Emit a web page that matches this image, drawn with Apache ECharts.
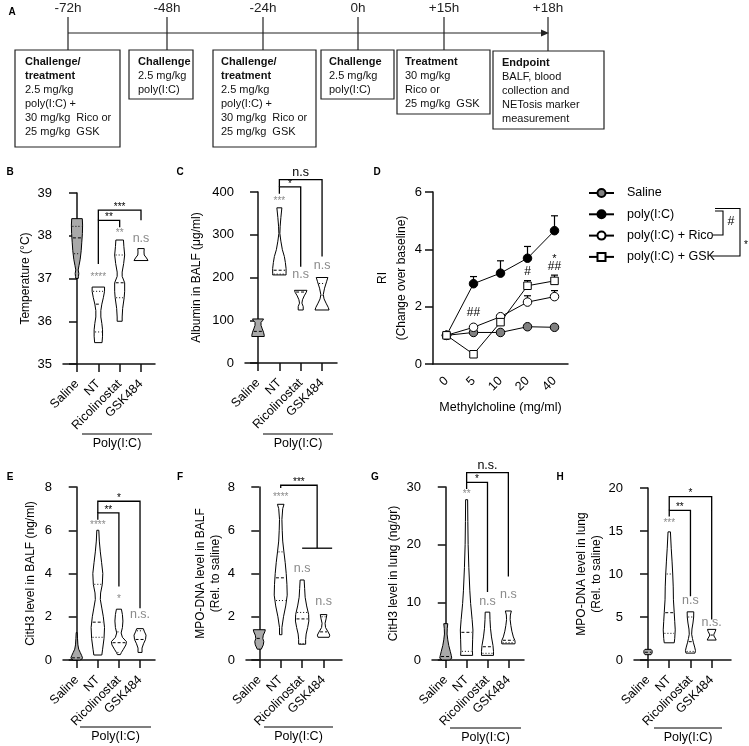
<!DOCTYPE html>
<html><head><meta charset="utf-8">
<script src="https://cdn.jsdelivr.net/npm/echarts@6/dist/echarts.min.js"></script>
<style>html,body{margin:0;padding:0;background:#fff}#c{width:749px;height:746px}</style>
</head><body><div id="c"></div>
<script>
// ---------------- DATA ----------------
const groups = ['Saline', 'NT', 'Ricolinostat', 'GSK484'];

// Panel A timeline
const timeLabels = ['-72h', '-48h', '-24h', '0h', '+15h', '+18h'];
const boxTitles = ['Challenge/\ntreatment', 'Challenge', 'Challenge/\ntreatment', 'Challenge', 'Treatment', 'Endpoint'];
const boxBodies = [
  '2.5 mg/kg\npoly(I:C) +\n30 mg/kg  Rico or\n25 mg/kg  GSK',
  '2.5 mg/kg\npoly(I:C)',
  '2.5 mg/kg\npoly(I:C) +\n30 mg/kg  Rico or\n25 mg/kg  GSK',
  '2.5 mg/kg\npoly(I:C)',
  '30 mg/kg\nRico or\n25 mg/kg  GSK',
  'BALF, blood\ncollection and\nNETosis marker\nmeasurement'
];

// Panel B: temperature (value, relative density) profiles, top to bottom
const tempViolins = [
  [[38.4,0.53],[38.25,0.56],[38.05,0.54],[37.85,0.48],[37.65,0.42],[37.45,0.32],[37.3,0.2],[37.2,0.12],[37.12,0.18],[37.05,0.15],[37.0,0.12]],
  [[36.8,0.62],[36.7,0.62],[36.55,0.5],[36.4,0.35],[36.25,0.25],[36.1,0.25],[35.95,0.35],[35.8,0.42],[35.65,0.42],[35.5,0.37]],
  [[37.9,0.38],[37.75,0.42],[37.55,0.5],[37.35,0.4],[37.15,0.25],[37.05,0.25],[36.9,0.5],[36.7,0.5],[36.55,0.45],[36.3,0.3],[36.1,0.25],[36.0,0.25]],
  [[37.7,0.32],[37.62,0.3],[37.55,0.32],[37.48,0.55],[37.42,0.7]]
];
const tempMedian = [37.95, 36.4, 36.9, null];
const tempQ1 = [37.58, 35.75, 36.55, null];
const tempQ3 = [38.22, 36.7, 37.55, null];
const tempSigText = ['', '****', '**', 'n.s'];
const tempSigY = [null, 37.08, 38.11, 37.94];
const tempBrackets = [[1, 2, 38.36, 37.34, 38.2], [1, 3, 38.6, 38.36, 38.36]];
const tempBracketText = ['**', '***'];

// Panel C: albumin
const albViolins = [
  [[103,0.55],[99,0.45],[95,0.3],[88,0.3],[80,0.42],[72,0.55],[65,0.62],[62,0.62]],
  [[363,0.25],[340,0.15],[320,0.08],[303,0.05],[285,0.15],[265,0.3],[249,0.5],[235,0.6],[221,0.67],[210,0.67],[206,0.67]],
  [[170,0.62],[165,0.55],[157,0.35],[148,0.18],[140,0.12],[132,0.25],[124,0.25]],
  [[200,0.58],[190,0.45],[175,0.25],[160,0.12],[150,0.2],[140,0.4],[130,0.62],[124,0.7]]
];
const albMedian = [74, 217, 166, 158];
const albQ1 = [null, 208, null, null];
const albQ3 = [null, 297, null, 186];
const albSigText = ['', '***', 'n.s', 'n.s'];
const albSigY = [null, 382, 206, 229];
const albBrackets = [[1, 2, 412, 396, 225], [1, 3, 429, 412, 249]];
const albBracketText = ['*', 'n.s'];

// Panel D: respiratory index
const doses = ['0', '5', '10', '20', '40'];
const riSaline = [1.0, 1.1, 1.1, 1.3, 1.28];
const riPoly = [1.0, 2.8, 3.17, 3.69, 4.65];
const riRico = [1.0, 1.28, 1.65, 2.16, 2.35];
const riGsk = [1.0, 0.34, 1.46, 2.73, 2.9];
const riPolyErr = [null, 3.05, 3.6, 4.1, 5.17];
const riRicoErr = [null, null, 1.72, 2.38, 2.56];
const riGskErr = [null, null, null, 2.91, 3.1];
const riMarks = [[1, 1.78, '##'], [3, 3.23, '#'], [4, 3.75, '*'], [4, 3.4, '##']];
const riNames = ['Saline', 'poly(I:C)', 'poly(I:C) + Rico', 'poly(I:C) + GSK'];

// Panel E: CitH3 BALF
const citBalfViolins = [
  [[1.27,0.05],[1.0,0.08],[0.7,0.12],[0.5,0.2],[0.35,0.35],[0.2,0.5],[0.1,0.58],[0.03,0.5],[0.0,0.3]],
  [[6.0,0.1],[5.5,0.15],[5.0,0.25],[4.5,0.38],[4.0,0.5],[3.5,0.45],[3.1,0.28],[2.8,0.25],[2.4,0.4],[2.0,0.55],[1.5,0.67],[1.0,0.62],[0.5,0.48],[0.23,0.4]],
  [[2.35,0.25],[2.1,0.35],[1.8,0.4],[1.5,0.35],[1.25,0.22],[1.05,0.35],[0.85,0.75],[0.7,0.7],[0.5,0.45],[0.35,0.25],[0.25,0.15]],
  [[1.45,0.33],[1.3,0.45],[1.15,0.6],[0.95,0.55],[0.75,0.35],[0.55,0.2],[0.35,0.2]]
];
const citBalfMedian = [0.1, 1.75, 0.8, 0.95];
const citBalfQ1 = [null, 1.05, 0.35, null];
const citBalfQ3 = [null, 3.5, 1.3, 1.35];
const citBalfSigText = ['', '****', '*', 'n.s.'];
const citBalfSigY = [null, 6.33, 2.9, 2.08];
const citBalfBrackets = [[1, 2, 6.8, 6.49, 3.4], [1, 3, 7.34, 6.8, 2.39]];
const citBalfBracketText = ['**', '*'];

// Panel F: MPO-DNA BALF
const mpoBalfViolins = [
  [[1.4,0.6],[1.3,0.55],[1.15,0.4],[1.0,0.35],[0.85,0.45],[0.7,0.4],[0.5,0.2]],
  [[7.2,0.33],[7.0,0.2],[6.5,0.12],[6.0,0.15],[5.5,0.2],[5.0,0.32],[4.5,0.45],[4.0,0.55],[3.5,0.62],[3.0,0.65],[2.5,0.5],[2.0,0.28],[1.5,0.12],[1.17,0.12]],
  [[3.7,0.2],[3.3,0.25],[2.9,0.3],[2.5,0.45],[2.1,0.65],[1.8,0.67],[1.5,0.55],[1.2,0.4],[0.95,0.35],[0.73,0.35]],
  [[2.1,0.33],[1.9,0.25],[1.7,0.15],[1.5,0.2],[1.3,0.45],[1.15,0.62],[1.05,0.55]]
];
const mpoBalfMedian = [1.0, 3.8, 1.9, 1.3];
const mpoBalfQ1 = [null, 2.75, 0.75, null];
const mpoBalfQ3 = [null, 5.0, 2.2, 2.0];
const mpoBalfSigText = ['', '****', 'n.s', 'n.s'];
const mpoBalfSigY = [null, 7.64, 4.25, 2.7];
const mpoBalfBrackets = [[1, 2.7, 8.08, 7.95, 5.17]];
const mpoBalfBracketText = ['***'];
const mpoBalfCombine = [2, 3.4, 5.17];

// Panel G: CitH3 lung
const citLungViolins = [
  [[6.3,0.2],[5.5,0.15],[4.5,0.13],[3.5,0.2],[2.5,0.3],[1.5,0.45],[0.8,0.55],[0.3,0.6],[0,0.35]],
  [[27.8,0.1],[24,0.12],[20,0.15],[16,0.22],[12,0.32],[9.8,0.4],[7,0.55],[5.2,0.63],[3.5,0.6],[1.7,0.57],[0.8,0.6]],
  [[8.3,0.23],[7,0.25],[5.5,0.3],[4,0.4],[2.5,0.55],[1.5,0.6],[0.8,0.6]],
  [[8.5,0.3],[7.8,0.2],[7,0.18],[6,0.25],[5,0.35],[4,0.5],[3.4,0.65],[3.0,0.68],[2.8,0.65]]
];
const citLungMedian = [0.6, 4.8, 2.3, 3.42];
const citLungQ1 = [null, 1.5, 1.16, 3.0];
const citLungQ3 = [null, null, null, null];
const citLungSigText = ['', '**', 'n.s', 'n.s'];
const citLungSigY = [null, 29.07, 10.1, 11.4];
const citLungBrackets = [[1, 2, 30.8, 29.65, 11.8], [1, 3, 32.5, 30.8, 14.5]];
const citLungBracketText = ['*', 'n.s.'];

// Panel H: MPO-DNA lung
const mpoLungViolins = [
  [[1.24,0.3],[1.1,0.4],[0.95,0.42],[0.8,0.4],[0.62,0.3]],
  [[14.9,0.12],[13,0.2],[11.5,0.28],[10,0.35],[8.5,0.4],[7,0.42],[5.5,0.5],[4.5,0.55],[3.5,0.6],[2.5,0.55],[2.0,0.5]],
  [[5.6,0.33],[5.0,0.32],[4.3,0.25],[3.6,0.15],[3.0,0.12],[2.5,0.2],[2.0,0.3],[1.5,0.42],[1.1,0.5],[0.8,0.45]],
  [[3.56,0.42],[3.3,0.35],[3.0,0.22],[2.8,0.22],[2.55,0.35],[2.32,0.45]]
];
const mpoLungMedian = [0.9, 5.5, 2.13, 2.9];
const mpoLungQ1 = [null, 3.1, 1.0, null];
const mpoLungQ3 = [null, 10, 5.0, null];
const mpoLungSigText = ['', '***', 'n.s', 'n.s.'];
const mpoLungSigY = [null, 16.1, 6.96, 4.4];
const mpoLungBrackets = [[1, 2, 17.4, 16.7, 7.4], [1, 3, 19.0, 17.4, 4.7]];
const mpoLungBracketText = ['**', '*'];

// ---------------- STYLE / LAYOUT ----------------
const FONT = '"Liberation Sans", Arial, sans-serif';
const HW = 10;
const FILL = '#a9a9a9';
const GRAY = '#8a8a8a';
const AX = { color: '#111', width: 1.5 };

const violinPanels = [
  { idx: 0, grid: { left: 63, top: 193, width: 92, height: 171 }, x: [-0.656, 3.656], y: [35, 39, 1],
    name: 'Temperature (°C)', gap: 30, lh: 14,
    v: tempViolins, med: tempMedian, q1: tempQ1, q3: tempQ3, sig: tempSigText, sigY: tempSigY, br: tempBrackets, brT: tempBracketText },
  { idx: 1, grid: { left: 245, top: 192, width: 92, height: 171 }, x: [-0.61, 3.7], y: [0, 400, 100],
    name: 'Albumin in BALF (μg/ml)', gap: 41, lh: 14,
    v: albViolins, med: albMedian, q1: albQ1, q3: albQ3, sig: albSigText, sigY: albSigY, br: albBrackets, brT: albBracketText },
  { idx: 3, grid: { left: 63, top: 487, width: 92, height: 173 }, x: [-0.65, 3.71], y: [0, 8, 2],
    name: 'CitH3 level in BALF (ng/ml)', gap: 25, lh: 14,
    v: citBalfViolins, med: citBalfMedian, q1: citBalfQ1, q3: citBalfQ3, sig: citBalfSigText, sigY: citBalfSigY, br: citBalfBrackets, brT: citBalfBracketText },
  { idx: 4, grid: { left: 246, top: 487, width: 96, height: 173 }, x: [-0.62, 3.86], y: [0, 8, 2],
    name: 'MPO-DNA level in BALF\n(Rel. to saline)', gap: 23, lh: 15,
    v: mpoBalfViolins, med: mpoBalfMedian, q1: mpoBalfQ1, q3: mpoBalfQ3, sig: mpoBalfSigText, sigY: mpoBalfSigY, br: mpoBalfBrackets, brT: mpoBalfBracketText, extra: mpoBalfCombine },
  { idx: 5, grid: { left: 432, top: 487, width: 92, height: 173 }, x: [-0.66, 3.75], y: [0, 30, 10],
    name: 'CitH3 level in lung (ng/gr)', gap: 31, lh: 14,
    v: citLungViolins, med: citLungMedian, q1: citLungQ1, q3: citLungQ3, sig: citLungSigText, sigY: citLungSigY, br: citLungBrackets, brT: citLungBracketText },
  { idx: 6, grid: { left: 634, top: 488, width: 97, height: 172 }, x: [-0.66, 3.91], y: [0, 20, 5],
    name: 'MPO-DNA level in lung\n(Rel. to saline)', gap: 29, lh: 15,
    v: mpoLungViolins, med: mpoLungMedian, q1: mpoLungQ1, q3: mpoLungQ3, sig: mpoLungSigText, sigY: mpoLungSigY, br: mpoLungBrackets, brT: mpoLungBracketText }
];
const dGrid = { left: 433, top: 192, width: 135, height: 172 };

function interpDensity(prof, v) {
  for (let k = 0; k < prof.length - 1; k++) {
    const a = prof[k], b = prof[k + 1];
    if (v <= a[0] && v >= b[0]) {
      const t = (a[0] - v) / (a[0] - b[0]);
      return a[1] + t * (b[1] - a[1]);
    }
  }
  return prof[prof.length - 1][1];
}

function txt(x, y, text, size, color, extra) {
  return Object.assign({ type: 'text', x: x, y: y, style: { text: text, fill: color, fontSize: size, fontFamily: FONT, align: 'center', verticalAlign: 'middle' } }, extra || {});
}

const grids = [], xAxes = [], yAxes = [], series = [];
const order = [0, 1, null, 2, 3, 4, 5];
for (let i = 0; i < 7; i++) {
  if (i === 2) {
    grids.push(dGrid);
    xAxes.push({ gridIndex: 2, type: 'category', data: doses, boundaryGap: true,
      axisLine: { lineStyle: AX }, axisTick: { alignWithLabel: true, length: 8, lineStyle: AX },
      axisLabel: { rotate: 45, fontSize: 12.5, color: '#000', fontFamily: FONT, margin: 15 },
      name: 'Methylcholine (mg/ml)', nameLocation: 'middle', nameGap: 37,
      nameTextStyle: { fontSize: 12.5, fontFamily: FONT, color: '#000' } });
    yAxes.push({ gridIndex: 2, type: 'value', min: 0, max: 6, interval: 2,
      axisLine: { show: true, lineStyle: AX }, axisTick: { show: true, length: 8, lineStyle: AX },
      axisLabel: { fontSize: 13, color: '#000', fontFamily: FONT, margin: 11 }, splitLine: { show: false },
      name: 'RI\n(Change over baseline)', nameLocation: 'middle', nameGap: 21,
      nameTextStyle: { fontSize: 12, fontFamily: FONT, color: '#000', lineHeight: 19 } });
    continue;
  }
  const P = violinPanels[order[i]];
  grids.push(P.grid);
  xAxes.push({ gridIndex: i, type: 'value', min: P.x[0], max: P.x[1],
    axisLine: { show: true, onZero: false, lineStyle: AX },
    axisTick: { show: true, customValues: [0, 1, 2, 3], length: 8, lineStyle: AX },
    axisLabel: { customValues: [0, 1, 2, 3], rotate: 45, formatter: v => groups[Math.round(v)], fontSize: 12.5, color: '#000', fontFamily: FONT, margin: 18 },
    splitLine: { show: false } });
  yAxes.push({ gridIndex: i, type: 'value', min: P.y[0], max: P.y[1], interval: P.y[2],
    axisLine: { show: true, lineStyle: AX }, axisTick: { show: true, length: 8, lineStyle: AX },
    axisLabel: { fontSize: 13, color: '#000', fontFamily: FONT, margin: 11 }, splitLine: { show: false },
    name: P.name, nameLocation: 'middle', nameGap: P.gap,
    nameTextStyle: { fontSize: 12, fontFamily: FONT, color: '#000', lineHeight: P.lh } });

  // violins
  series.push({ type: 'custom', xAxisIndex: i, yAxisIndex: i, silent: true, z: 3,
    data: P.v.map((_, g) => [g, P.v[g][0][0]]),
    renderItem: (params, api) => {
      const g = params.dataIndex;
      const prof = P.v[g];
      const cx = api.coord([g, prof[0][0]])[0];
      const R = [], L = [];
      prof.forEach(([v, d]) => { const y = api.coord([g, v])[1]; R.push([cx + d * HW, y]); L.unshift([cx - d * HW, y]); });
      const ch = [{ type: 'polygon', shape: { points: R.concat(L) }, style: { fill: g === 0 ? FILL : '#fff', stroke: '#000', lineWidth: 1 } }];
      [[P.q1[g], [1, 2]], [P.q3[g], [1, 2]], [P.med[g], [3, 2]]].forEach(([v, dash]) => {
        if (v == null) return;
        const d = interpDensity(prof, v), y = api.coord([g, v])[1];
        ch.push({ type: 'line', shape: { x1: cx - d * HW + 1, y1: y, x2: cx + d * HW - 1, y2: y }, style: { stroke: '#000', lineWidth: 1, lineDash: dash } });
      });
      return { type: 'group', children: ch };
    } });

  // significance marks and brackets
  series.push({ type: 'custom', xAxisIndex: i, yAxisIndex: i, silent: true, z: 4, clip: false,
    data: [[0, P.y[0]]],
    renderItem: (params, api) => {
      const ch = [];
      P.sig.forEach((s, g) => {
        if (!s) return;
        const p = api.coord([g, P.sigY[g]]);
        const star = s.indexOf('*') >= 0;
        ch.push(txt(p[0], p[1] + (star ? 2 : 0), s, star ? 10 : 12.5, GRAY));
      });
      P.br.forEach((b, k) => {
        const a1 = api.coord([b[0], b[3]]), t1 = api.coord([b[0], b[2]]), t2 = api.coord([b[1], b[2]]), a2 = api.coord([b[1], b[4]]);
        ch.push({ type: 'polyline', shape: { points: [a1, t1, t2, a2] }, style: { stroke: '#000', lineWidth: 1.3, fill: null } });
        const s = P.brT[k], star = s.indexOf('*') >= 0;
        ch.push(txt((t1[0] + t2[0]) / 2, t1[1] - (star ? 3 : 7.5), s, star ? 10 : 12.5, '#000'));
      });
      if (P.extra) {
        const e1 = api.coord([P.extra[0], P.extra[2]]), e2 = api.coord([P.extra[1], P.extra[2]]);
        ch.push({ type: 'line', shape: { x1: e1[0], y1: e1[1], x2: e2[0], y2: e2[1] }, style: { stroke: '#000', lineWidth: 1.3 } });
      }
      return { type: 'group', children: ch };
    } });
}

// Panel D series
const riSeries = [riSaline, riPoly, riRico, riGsk];
const riFill = ['#808080', '#000', '#fff', '#fff'];
const riSym = ['circle', 'circle', 'circle', 'rect'];
const riErr = [null, riPolyErr, riRicoErr, riGskErr];
riErr.forEach((err, s) => {
  if (!err) return;
  series.push({ type: 'custom', xAxisIndex: 2, yAxisIndex: 2, silent: true, z: 2,
    data: err.map((e, k) => [k, riSeries[s][k], e]).filter(d => d[2] != null),
    renderItem: (params, api) => {
      const p0 = api.coord([api.value(0), api.value(1)]), p1 = api.coord([api.value(0), api.value(2)]);
      return { type: 'group', children: [
        { type: 'line', shape: { x1: p0[0], y1: p0[1], x2: p1[0], y2: p1[1] }, style: { stroke: '#000', lineWidth: 1.2 } },
        { type: 'line', shape: { x1: p1[0] - 3.5, y1: p1[1], x2: p1[0] + 3.5, y2: p1[1] }, style: { stroke: '#000', lineWidth: 1.2 } }
      ] };
    } });
});
riSeries.forEach((d, s) => {
  series.push({ type: 'line', name: riNames[s], xAxisIndex: 2, yAxisIndex: 2, data: d, z: 5,
    symbol: riSym[s], symbolSize: s === 3 ? 7.5 : 8.5, showAllSymbol: true,
    lineStyle: { color: '#000', width: 1 }, itemStyle: { color: riFill[s], borderColor: '#000', borderWidth: 1 } });
});
series.push({ type: 'custom', xAxisIndex: 2, yAxisIndex: 2, silent: true, z: 6,
  data: riMarks.map(m => [m[0], m[1]]),
  renderItem: (params, api) => {
    const m = riMarks[params.dataIndex];
    const p = api.coord([api.value(0), api.value(1)]);
    const star = m[2].indexOf('*') >= 0;
    return txt(p[0], p[1] + (star ? 2 : 0), m[2], star ? 11 : 12, '#000');
  } });

// ---------------- GRAPHIC (panel A, letters, group lines, legend brackets) ----------------
const graphic = [];
const tickX = [68, 167, 263, 358, 444, 548];
const boxes = [[15, 50, 105, 97], [129, 50, 64, 49], [213, 50, 103, 97], [321, 50, 73, 49], [397, 50, 93, 64], [493, 51, 111, 78]];
const boxPad = [10, 9, 8, 8, 8, 9];
graphic.push({ type: 'line', shape: { x1: 68, y1: 33, x2: 543, y2: 33 }, style: { stroke: '#222', lineWidth: 1.2 } });
graphic.push({ type: 'polygon', shape: { points: [[541, 29.5], [549, 33], [541, 36.5]] }, style: { fill: '#222' } });
timeLabels.forEach((t, k) => {
  graphic.push(txt(tickX[k], 8, t, 13.5, '#222'));
  graphic.push({ type: 'line', shape: { x1: tickX[k], y1: 17, x2: tickX[k], y2: boxes[k][1] }, style: { stroke: '#222', lineWidth: 1.2 } });
  const b = boxes[k];
  graphic.push({ type: 'rect', shape: { x: b[0], y: b[1], width: b[2], height: b[3] }, style: { fill: '#fff', stroke: '#222', lineWidth: 1.2 } });
  const rich = boxTitles[k].split('\n').map(l => '{b|' + l + '}').join('\n') + '\n' + boxBodies[k];
  graphic.push({ type: 'text', x: b[0] + boxPad[k], y: b[1] + 5, style: { text: rich, fontSize: 11, fontFamily: FONT, fill: '#111', lineHeight: 14, align: 'left', verticalAlign: 'top',
    rich: { b: { fontWeight: 'bold', fontSize: 11, fontFamily: FONT, lineHeight: 14, fill: '#111' } } } });
});
const letters = [['A', 12, 12], ['B', 10, 172], ['C', 180, 172], ['D', 377, 172], ['E', 10, 477], ['F', 180, 477], ['G', 375, 477], ['H', 560, 477]];
letters.forEach(l => graphic.push({ type: 'text', x: l[1], y: l[2], style: { text: l[0], fontSize: 10, fontWeight: 'bold', fontFamily: FONT, fill: '#000', align: 'center', verticalAlign: 'middle' } }));
const groupLines = [[82, 152, 434], [263, 333, 434], [80, 151, 727], [264, 333, 727], [450, 521, 728], [654, 722, 728]];
groupLines.forEach(g => {
  graphic.push({ type: 'line', shape: { x1: g[0], y1: g[2], x2: g[1], y2: g[2] }, style: { stroke: '#000', lineWidth: 1.2 } });
  graphic.push(txt((g[0] + g[1]) / 2, g[2] + 10, 'Poly(I:C)', 12.5, '#000'));
});
graphic.push({ type: 'polyline', shape: { points: [[715, 211], [723, 211], [723, 235], [713, 235]] }, style: { stroke: '#000', lineWidth: 1.1, fill: null } });
graphic.push({ type: 'polyline', shape: { points: [[715, 208.5], [740, 208.5], [740, 256], [711, 256]] }, style: { stroke: '#000', lineWidth: 1.1, fill: null } });
graphic.push(txt(731, 222, '#', 12.5, '#000'));
graphic.push(txt(746, 245, '*', 10, '#000'));

const chart = echarts.init(document.getElementById('c'), null, { renderer: 'canvas' });
chart.setOption({
  backgroundColor: '#fff',
  animation: false,
  textStyle: { fontFamily: FONT },
  grid: grids,
  xAxis: xAxes,
  yAxis: yAxes,
  legend: { data: riNames, orient: 'vertical', left: 588, top: 186, padding: 0, itemWidth: 25, itemHeight: 10, itemGap: 7.3, selectedMode: false,
    textStyle: { fontSize: 12.5, fontFamily: FONT, color: '#000', lineHeight: 14, padding: [0, 0, 0, 8] } },
  series: series,
  graphic: graphic
});
</script></body></html>
